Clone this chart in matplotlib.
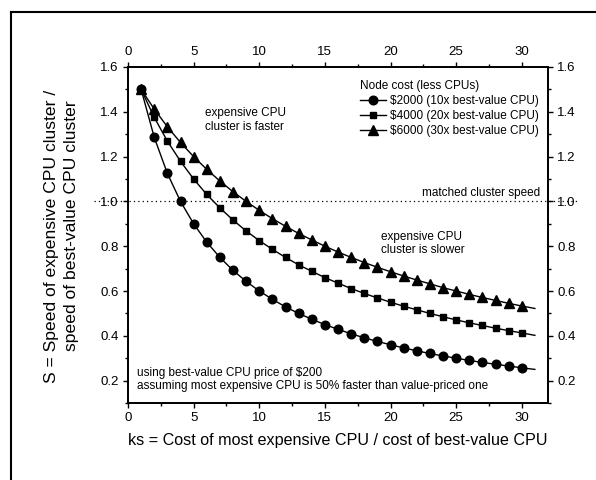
import matplotlib
matplotlib.use("Agg")
import matplotlib.pyplot as plt
from matplotlib.lines import Line2D
from matplotlib.ticker import MultipleLocator

plt.rcParams['font.family'] = ['Liberation Sans', 'DejaVu Sans']

ks = list(range(1, 31))
s_2000 = [1.500, 1.286, 1.125, 1.000, 0.900, 0.818, 0.750, 0.692, 0.643, 0.600,
          0.563, 0.529, 0.500, 0.474, 0.450, 0.429, 0.409, 0.391, 0.375, 0.360,
          0.346, 0.333, 0.321, 0.310, 0.300, 0.290, 0.281, 0.273, 0.265, 0.257]
s_4000 = [1.500, 1.375, 1.269, 1.179, 1.100, 1.031, 0.971, 0.917, 0.868, 0.825,
          0.786, 0.750, 0.717, 0.688, 0.660, 0.635, 0.611, 0.589, 0.569, 0.550,
          0.532, 0.516, 0.500, 0.485, 0.471, 0.458, 0.446, 0.434, 0.423, 0.413]
s_6000 = [1.500, 1.412, 1.333, 1.263, 1.200, 1.143, 1.091, 1.043, 1.000, 0.960,
          0.923, 0.889, 0.857, 0.828, 0.800, 0.774, 0.750, 0.727, 0.706, 0.686,
          0.667, 0.649, 0.632, 0.615, 0.600, 0.585, 0.571, 0.558, 0.545, 0.533]
# curve end points (lines run slightly past the last marker)
ks_end = 31
end_2000, end_4000, end_6000 = 0.250, 0.402, 0.522

labels = ["$2000 (10x best-value CPU)", "$4000 (20x best-value CPU)",
          "$6000 (30x best-value CPU)"]
xticks = [0, 5, 10, 15, 20, 25, 30]
yticks = [0.2, 0.4, 0.6, 0.8, 1.0, 1.2, 1.4, 1.6]

W, H = 596, 480
fig = plt.figure(figsize=(W / 100, H / 100), dpi=100)
ax = fig.add_axes([128 / W, 1 - 403 / H, 420 / W, 336 / H])

series = [(s_2000, end_2000, 'o', 6.2), (s_4000, end_4000, 's', 5.0),
          (s_6000, end_6000, '^', 7.0)]
handles = []
for (vals, end, mk, ms), lab in zip(series, labels):
    ax.plot(ks + [ks_end], vals + [end], color='black', lw=1.0)
    ax.plot(ks, vals, linestyle='none', marker=mk, ms=ms, color='black')
    handles.append(Line2D([], [], color='black', lw=1.0, marker=mk, ms=ms))

ax.set_xlim(0, 32)
ax.set_ylim(0.1, 1.6)

ax.plot([-2.6, 34.3], [1.0, 1.0], color='black', lw=0.9, linestyle=(0, (1, 2.5)),
        clip_on=False, zorder=0)

tick_fs = 9.5


def style_ticks(a):
    a.tick_params(which='major', direction='out', length=3.6, width=1,
                  labelsize=tick_fs, pad=3)
    a.tick_params(which='minor', direction='out', length=2, width=1)


ax.set_xticks(xticks)
ax.set_yticks(yticks)
ax.set_yticklabels([f"{v:.1f}" for v in yticks])
ax.xaxis.set_minor_locator(MultipleLocator(2.5))
ax.yaxis.set_minor_locator(MultipleLocator(0.1))
style_ticks(ax)

axt = ax.twiny()
axt.set_xlim(ax.get_xlim())
axt.set_xticks(xticks)
axt.xaxis.set_minor_locator(MultipleLocator(2.5))
style_ticks(axt)

axr = ax.twinx()
axr.set_ylim(ax.get_ylim())
axr.set_yticks(yticks)
axr.set_yticklabels([f"{v:.1f}" for v in yticks])
axr.yaxis.set_minor_locator(MultipleLocator(0.1))
style_ticks(axr)

for a in (ax, axt, axr):
    for sp in a.spines.values():
        sp.set_linewidth(1.1)

fig.text(338 / W, 1 - 440 / H,
         "ks = Cost of most expensive CPU / cost of best-value CPU",
         fontsize=11.6, ha='center', va='center')
fig.text(52 / W, 1 - 236 / H, "S = Speed of expensive CPU cluster /",
         fontsize=12.6, ha='center', va='center', rotation=90)
fig.text(72 / W, 1 - 226 / H, "speed of best-value CPU cluster",
         fontsize=12.6, ha='center', va='center', rotation=90)

ann_fs = 8.5
ax.text(5.9, 1.363, "expensive CPU\ncluster is faster", fontsize=ann_fs,
        ha='left', va='center', linespacing=1.2)
ax.text(19.3, 0.812, "expensive CPU\ncluster is slower", fontsize=ann_fs,
        ha='left', va='center', linespacing=1.2)
ax.text(31.4, 1.012, "matched cluster speed", fontsize=ann_fs, ha='right', va='bottom')
ax.text(0.7, 0.205, "using best-value CPU price of $200\n"
        "assuming most expensive CPU is 50% faster than value-priced one",
        fontsize=ann_fs, ha='left', va='center', linespacing=1.2)

leg = ax.legend(handles, labels, title="Node cost (less CPUs)", loc='upper right',
                bbox_to_anchor=(0.998, 0.985), frameon=False, fontsize=ann_fs,
                title_fontsize=ann_fs, handlelength=2.2, handletextpad=0.35,
                labelspacing=0.25, borderpad=0.2, alignment='left')

fig.add_artist(Line2D([11 / W, 11 / W], [0, 1 - 12 / H], color='black', lw=1.5,
                      transform=fig.transFigure))
fig.add_artist(Line2D([11 / W, 1], [1 - 12 / H, 1 - 12 / H], color='black', lw=1.5,
                      transform=fig.transFigure))

fig.savefig("out.png", dpi=100)
